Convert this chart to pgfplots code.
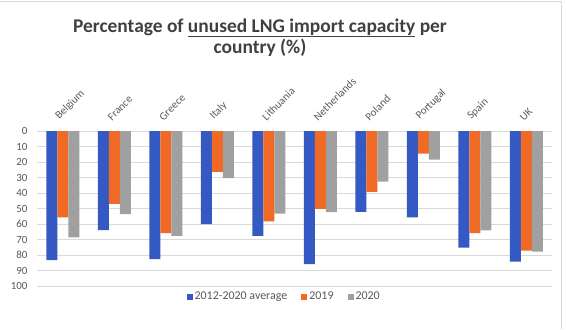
\documentclass[border=0pt]{standalone}
\usepackage{pgfplots}
\pgfplotsset{compat=1.18}
\usepackage{fontspec}
\setmainfont{Carlito}
\definecolor{cblue}{HTML}{3459C3}
\definecolor{corange}{HTML}{F06A26}
\definecolor{cgray}{HTML}{A0A0A0}
\definecolor{ctext}{HTML}{595959}
\definecolor{ctitle}{HTML}{404040}
\definecolor{cgrid}{HTML}{D9D9D9}
\begin{document}
\begin{tikzpicture}[x=1bp,y=1bp]
\path[use as bounding box, fill=white] (0,0) rectangle (566,329);
\draw[cgrid, line width=0.8bp] (0,328) -- (561,328) -- (561,0);
\node[font=\bfseries\fontsize{19.5}{23}\selectfont, text=ctitle, anchor=base] at (260,297) {Percentage of \underline{unused LNG import capacity} per};
\node[font=\bfseries\fontsize{19.5}{23}\selectfont, text=ctitle, anchor=base] at (260,276) {country (\%)};
\begin{axis}[
  at={(37bp,198bp)}, anchor=north west,
  scale only axis, width=515bp, height=155bp,
  ybar=0pt, bar width=11bp,
  y dir=reverse,
  ymin=0, ymax=100, ytick={0,10,...,100},
  xmin=-0.5, xmax=9.5,
  xtick={0,...,9},
  xticklabel pos=upper,
  xticklabels={Belgium,France,Greece,Italy,Lithuania,Netherlands,Poland,Portugal,Spain,UK},
  ymajorgrids, major grid style={cgrid, line width=0.8bp},
  axis line style={draw=none},
  tick style={draw=none},
  /pgf/number format/assume math mode=true,
  ticklabel style={font=\fontsize{11}{13}\selectfont, text=ctext},
  yticklabel style={xshift=-6bp},
  xticklabel style={rotate=45, anchor=south west, xshift=-1bp, yshift=2bp},
  legend style={at={(0.48,-0.07)}, anchor=center, draw=none, fill=none,
    font=\fontsize{12}{14}\selectfont, text=ctext, legend columns=3,
    /tikz/every even column/.append style={column sep=12bp}},
  legend image code/.code={\fill[#1] (0bp,-3bp) rectangle (6bp,3bp);},
]
\addplot[fill=cblue, draw=none] coordinates {(0,83.3) (1,63.9) (2,82.6) (3,60.0) (4,67.6) (5,85.9) (6,52.2) (7,55.7) (8,75.2) (9,84.3)};
\addplot[fill=corange, draw=none] coordinates {(0,55.7) (1,47.0) (2,65.9) (3,26.3) (4,58.3) (5,50.2) (6,39.3) (7,14.6) (8,65.9) (9,77.2)};
\addplot[fill=cgray, draw=none] coordinates {(0,68.7) (1,53.7) (2,67.6) (3,30.4) (4,53.3) (5,52.4) (6,32.6) (7,18.5) (8,64.1) (9,77.8)};
\legend{2012-2020 average, 2019, 2020}
\end{axis}
\end{tikzpicture}
\end{document}
